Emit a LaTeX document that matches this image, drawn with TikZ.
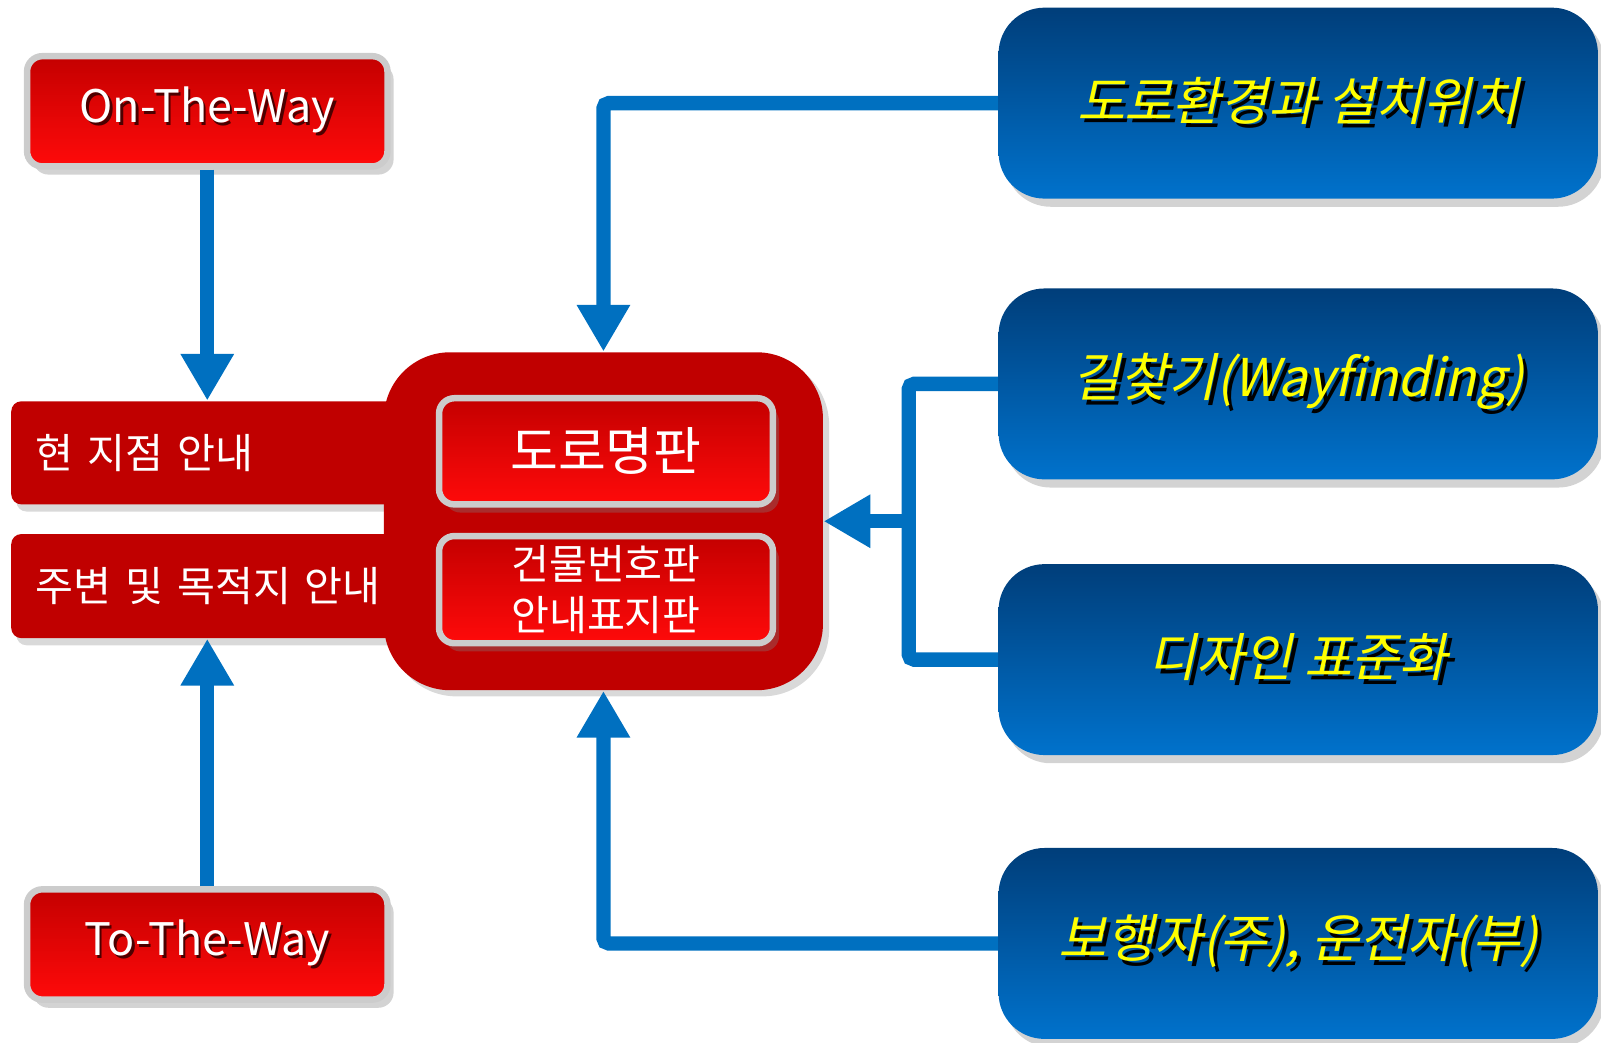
\documentclass[tikz,border=0pt]{standalone}
\usepackage{fontspec}
\setmainfont{Noto Sans CJK KR}
\newfontfamily\slantfont[FakeSlant=0.22]{Noto Sans CJK KR}
\usepackage{tikz}
\usetikzlibrary{arrows.meta}
\usetikzlibrary{shadows}
\definecolor{flowblue}{RGB}{0,112,192}
\definecolor{darkred}{RGB}{192,0,0}
\definecolor{btntop}{RGB}{196,0,0}
\definecolor{btnbot}{RGB}{255,10,10}
\definecolor{boxtop}{RGB}{0,62,122}
\definecolor{boxbot}{RGB}{0,114,204}
\definecolor{txtyellow}{RGB}{255,255,0}
\newcommand{\shtext}[3][1.2pt]{\rlap{\color{#2}\kern#1\raisebox{-#1}{#3}}#3}

\begin{document}
\begin{tikzpicture}[
x=0.1mm, y=-0.1mm,
redbtn/.style={
rectangle,
rounded corners=1.5mm,
draw=gray!40,
line width=1.8pt,
top color=btntop,
bottom color=btnbot,
text=white,
inner sep=0pt,
drop shadow={shadow xshift=0.6mm, shadow yshift=-0.8mm, opacity=0.35}},
redbar/.style={
rectangle,
rounded corners=1mm,
fill=darkred,
text=white,
inner ysep=0pt,
inner xsep=2.4mm,
align=left,
font=\fontsize{11.5}{14}\selectfont,
drop shadow={shadow xshift=0.5mm, shadow yshift=-0.7mm, opacity=0.3}},
bluebox/.style={
rectangle,
rounded corners=4.5mm,
top color=boxtop,
bottom color=boxbot,
minimum width=58.7mm,
minimum height=18.7mm,
text=txtyellow,
font=\slantfont\fontsize{14.5}{17}\selectfont,
drop shadow={shadow xshift=0.6mm, shadow yshift=-0.8mm, opacity=0.35}},
flow/.style={draw=flowblue, line width=4pt, rounded corners=1.5pt, -{Triangle[width=14pt,length=13pt]}},
flowline/.style={draw=flowblue, line width=4pt, rounded corners=1.5pt}
]
\useasboundingbox (0,0) rectangle (1568,1021);

% left side
\node[redbtn, minimum width=35.3mm, minimum height=10.8mm, font=\fontsize{12.5}{15}\selectfont] (onway) at (203,109) {\shtext[0.7pt]{red!30!black}{On-The-Way}};
\node[redbtn, minimum width=35.3mm, minimum height=10.8mm, font=\fontsize{12.5}{15}\selectfont] (toway) at (203,925) {\shtext[0.7pt]{red!30!black}{To-The-Way}};
\node[redbar, minimum height=10.1mm, text width=38mm] (here) at (225,443.5) {현 지점 안내};
\node[redbar, minimum height=10.2mm, text width=38mm] (around) at (225,574) {주변 및 목적지 안내};

% core
\node[rectangle, rounded corners=6.5mm, fill=darkred, minimum width=43mm, minimum height=33.1mm,
drop shadow={shadow xshift=0.6mm, shadow yshift=-0.6mm, opacity=0.3}] (core) at (591,510.5) {};
\node[redbtn, minimum width=32.7mm, minimum height=10.4mm, font=\fontsize{14.5}{17}\selectfont] (sign1) at (593.5,442) {도로명판};
\node[redbtn, minimum width=32.7mm, minimum height=10.5mm, align=center, font=\fontsize{11.5}{14}\selectfont] (sign2) at (593.5,577.5) {건물번호판\\안내표지판};

% right side
\node[bluebox] (env) at (1271.5,101) {\shtext{black}{도로환경과 설치위치}};
\node[bluebox] (wayf) at (1271.5,376) {\shtext{black}{길찾기(Wayfinding)}};
\node[bluebox] (design) at (1271.5,646) {\shtext{black}{디자인 표준화}};
\node[bluebox] (user) at (1271.5,924) {\shtext{black}{보행자(주), 운전자(부)}};

% connectors
\draw[flow] (onway.south) -- (onway.south |- here.north);
\draw[flow] (toway.north) -- (toway.north |- around.south);
\draw[flow] (env.west) -| (core.north);
\draw[flow] (user.west) -| (core.south);
\coordinate (join) at (890,510.5);
\draw[flowline] (wayf.west) -| (join) |- (design.west);
\draw[flow] (join) -- (core.east);
\end{tikzpicture}
\end{document}
